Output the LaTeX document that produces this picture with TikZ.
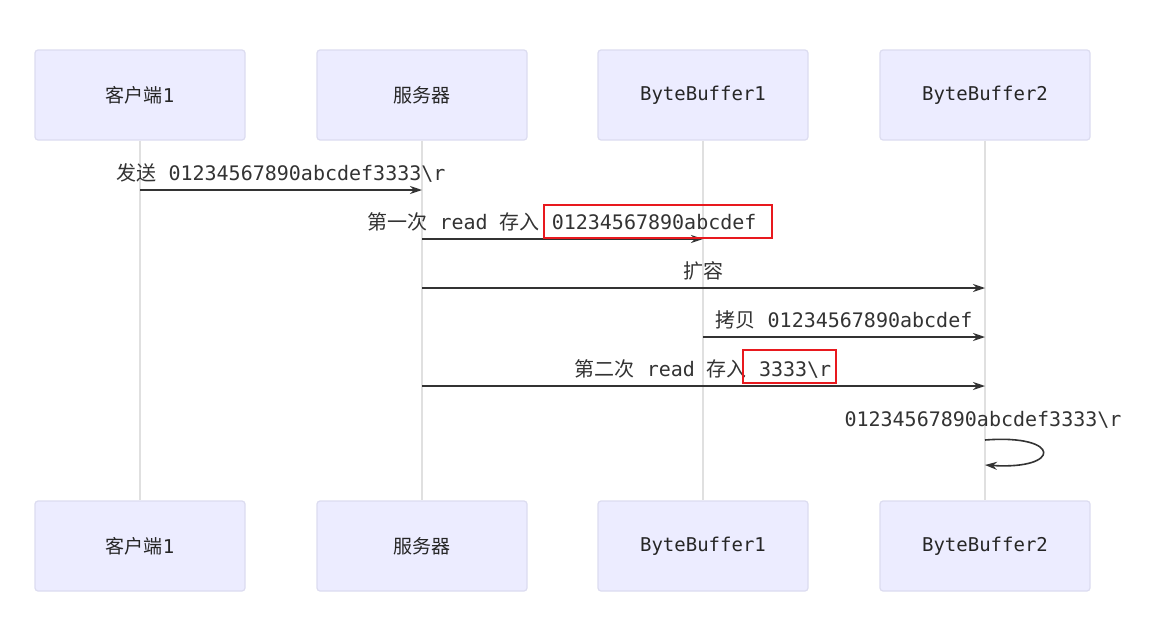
\documentclass[tikz,border=0pt]{standalone}
\usepackage{fontspec}
\setmainfont{DejaVu Sans Mono}
\newfontfamily\zhfont{Noto Sans CJK SC}
\newcommand{\zh}[1]{{\zhfont #1}}
\usetikzlibrary{arrows.meta}
\definecolor{actorfill}{HTML}{ECECFF}
\definecolor{actorline}{HTML}{DCDCF0}
\definecolor{txt}{HTML}{333333}
\definecolor{hired}{HTML}{E8191E}
\tikzset{
  actor/.style={draw=actorline, fill=actorfill, rounded corners=3pt,
    minimum width=210pt, minimum height=90pt, line width=1.2pt,
    text=black!85, font=\fontsize{19}{22}\selectfont},
  lifeline/.style={draw=black!12, line width=1.6pt},
  msg/.style={draw=txt, line width=1.6pt, -{Stealth[length=12pt,width=8pt]}},
  msglabel/.style={text=txt, font=\fontsize{20}{24}\selectfont, anchor=base, inner sep=0pt},
  hilite/.style={draw=hired, line width=2.8pt}
}
\begin{document}
\begin{tikzpicture}[x=1pt, y=-1pt]
  \fill[white] (0,0) rectangle (1152,629);
  \useasboundingbox (0,0) rectangle (1152,629);

  \node[actor] (cli1) at (140,95) {\zh{客户端}1};
  \node[actor] (srv1) at (422,95) {\zh{服务器}};
  \node[actor] (bufa1) at (703,95) {ByteBuffer1};
  \node[actor] (bufb1) at (985,95) {ByteBuffer2};
  \node[actor] (cli2) at (140,546) {\zh{客户端}1};
  \node[actor] (srv2) at (422,546) {\zh{服务器}};
  \node[actor] (bufa2) at (703,546) {ByteBuffer1};
  \node[actor] (bufb2) at (985,546) {ByteBuffer2};

  \draw[lifeline] (cli1.south) -- (cli2.north);
  \draw[lifeline] (srv1.south) -- (srv2.north);
  \draw[lifeline] (bufa1.south) -- (bufa2.north);
  \draw[lifeline] (bufb1.south) -- (bufb2.north);

  \draw[msg] (cli1 |- 0,190) -- (srv1 |- 0,190);
  \node[msglabel] (send) at (281,180) {\zh{发送} 01234567890abcdef3333\textbackslash r};

  \draw[msg] (srv1 |- 0,239) -- (bufa1 |- 0,239);
  \node[msglabel] (read1) at (562,229) {\zh{第一次} read \zh{存入} 01234567890abcdef};
  \draw[hilite] (544,205) rectangle (772,238);

  \draw[msg] (srv1 |- 0,288) -- (bufb1 |- 0,288);
  \node[msglabel] (grow) at (703,278) {\zh{扩容}};

  \draw[msg] (bufa1 |- 0,337) -- (bufb1 |- 0,337);
  \node[msglabel] (copy) at (844,327) {\zh{拷贝} 01234567890abcdef};

  \draw[msg] (srv1 |- 0,386) -- (bufb1 |- 0,386);
  \node[msglabel] (read2) at (703,376) {\zh{第二次} read \zh{存入} 3333\textbackslash r};
  \draw[hilite] (743,350) rectangle (836,383);

  \node[msglabel] (full) at (983,426) {01234567890abcdef3333\textbackslash r};
  \coordinate (loopin) at (bufb1 |- 0,440);
  \coordinate (loopout) at (bufb1 |- 0,465);
  \draw[msg] (loopin) .. controls (1062,434) and (1062,470) .. (loopout);
\end{tikzpicture}
\end{document}
